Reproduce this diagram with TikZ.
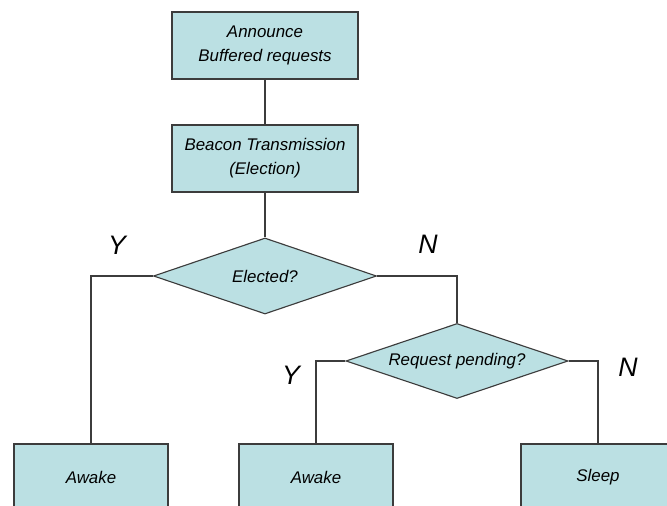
\documentclass[tikz,border=0pt]{standalone}
\usepackage{fontspec}
\setmainfont{Liberation Sans}
\usetikzlibrary{shapes.geometric}
\definecolor{boxfill}{RGB}{187,224,227}
\definecolor{boxline}{RGB}{60,60,60}
\tikzstyle{every node}=[font=\itshape\fontsize{12}{17}\selectfont]
\tikzstyle{box}=[draw=boxline,line width=0.8pt,fill=boxfill,align=center,minimum width=4.65cm,minimum height=1.675cm,inner sep=0pt]
\tikzstyle{endbox}=[box,minimum width=3.85cm]
\tikzstyle{decision}=[draw=boxline,line width=0.8pt,fill=boxfill,diamond,inner sep=0pt]
\tikzstyle{answer}=[font=\itshape\fontsize{19}{21}\selectfont]
\tikzstyle{conn}=[draw=boxline,line width=0.8pt]

\begin{document}
\begin{tikzpicture}[x=0.025cm,y=-0.025cm]
    \useasboundingbox (0,0) rectangle (667,506);
    \clip (0,0) rectangle (667,506);
    \node [box] (announce) at (265,45.5) {Announce\\Buffered requests};
    \node [box] (beacon) at (265,158.5) {Beacon Transmission\\(Election)};
    \node [decision,minimum width=5.575cm,minimum height=1.9cm] (elected) at (265,276) {\makebox[0pt]{Elected?}};
    \node [decision,minimum width=5.55cm,minimum height=1.875cm] (pending) at (457,361) {\makebox[0pt]{Request pending?}};
    \node [endbox] (awakeA) at (91,477.5) {Awake};
    \node [endbox] (awakeB) at (316,477.5) {Awake};
    \node [endbox] (sleep) at (598,477.5) {Sleep};
    % answers
    \node [answer] (yesA) at (117,245) {Y};
    \node [answer] (noA) at (428,244) {N};
    \node [answer] (yesB) at (291,375) {Y};
    \node [answer] (noB) at (628,367) {N};
    % connectors
    \draw [conn] (announce) -- (beacon);
    \draw [conn] (beacon) -- (elected);
    \draw [conn] (elected.west) -| (awakeA.north);
    \draw [conn] (elected.east) -| (pending.north);
    \draw [conn] (pending.west) -| (awakeB.north);
    \draw [conn] (pending.east) -| (sleep.north);
\end{tikzpicture}
\end{document}
